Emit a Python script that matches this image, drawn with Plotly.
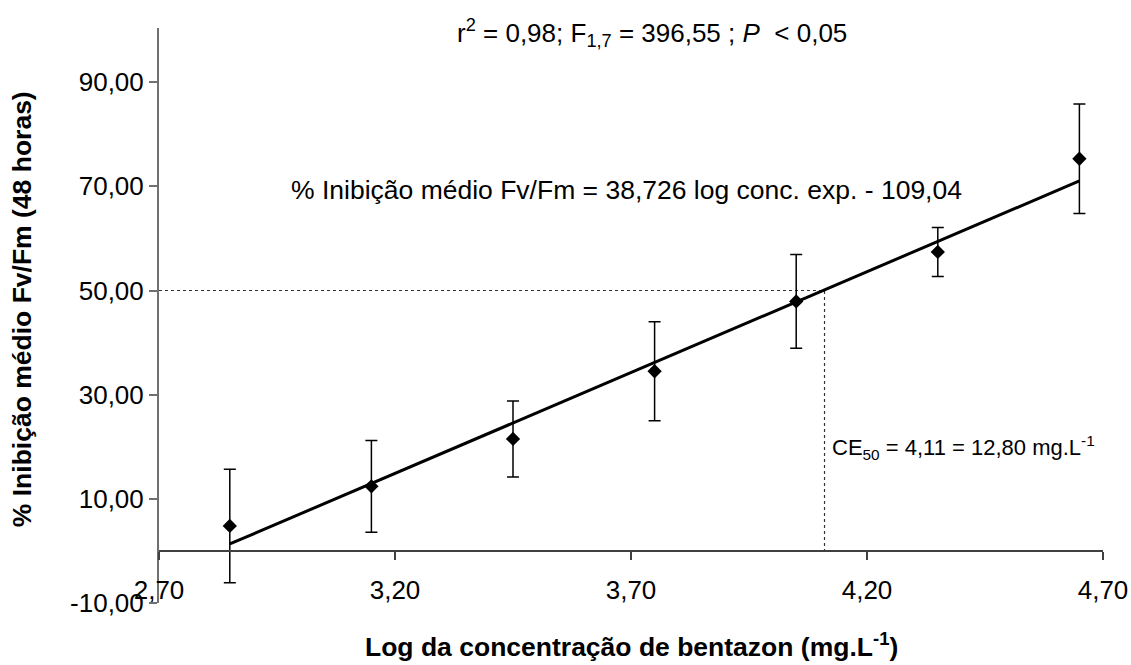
import plotly.graph_objects as go

# ---- data ----
log_conc = [2.85, 3.15, 3.45, 3.75, 4.05, 4.35, 4.65]
inhib_mean = [4.8, 12.4, 21.5, 34.5, 47.9, 57.4, 75.3]
inhib_err = [10.9, 8.8, 7.3, 9.5, 9.0, 4.7, 10.5]

slope = 38.726
intercept = -109.04
ce50_x = 4.11
ce50_y = 50.0

x_range = [2.70, 4.70]
y_range = [-10.0, 100.4]
x_ticks = [2.70, 3.20, 3.70, 4.20, 4.70]
y_ticks = [-10.0, 10.0, 30.0, 50.0, 70.0, 90.0]

def fmt(v):
    return f"{v:.2f}".replace(".", ",")

FONT = "Liberation Sans, Arial, sans-serif"

trend_x = [log_conc[0], log_conc[-1]]
trend_y = [slope * v + intercept for v in trend_x]

fig = go.Figure()

# reference dotted lines for CE50
fig.add_trace(go.Scatter(
    x=[x_range[0], ce50_x, ce50_x], y=[ce50_y, ce50_y, 0],
    mode="lines", line=dict(color="#333333", width=1.2, dash="dot"),
    hoverinfo="skip", showlegend=False))

# regression line
fig.add_trace(go.Scatter(
    x=trend_x, y=trend_y, mode="lines",
    line=dict(color="black", width=3), showlegend=False))

# means with error bars
fig.add_trace(go.Scatter(
    x=log_conc, y=inhib_mean, mode="markers",
    marker=dict(symbol="diamond", size=11, color="black"),
    error_y=dict(type="data", array=inhib_err, visible=True,
                 color="black", thickness=1.5, width=6),
    showlegend=False))

ypos = (0 - y_range[0]) / (y_range[1] - y_range[0])

fig.update_layout(
    width=1131, height=665,
    margin=dict(l=159, r=28, t=28, b=62, autoexpand=False),
    paper_bgcolor="white", plot_bgcolor="white",
    font=dict(family=FONT, size=26, color="black"),
    separators=",.",
    xaxis=dict(
        range=x_range, tickvals=x_ticks, ticktext=[fmt(v) for v in x_ticks],
        showgrid=False, zeroline=False, automargin=False,
        showline=True, linecolor="#404040", linewidth=1.5,
        ticks="outside", ticklen=8, tickcolor="#404040", tickwidth=1.5,
        ticklabelstandoff=8, ticklabeloverflow="allow",
        anchor="free", position=ypos,
        tickfont=dict(family=FONT, size=26, color="black"),
    ),
    yaxis=dict(
        range=y_range, tickvals=y_ticks, ticktext=[fmt(v) for v in y_ticks],
        showgrid=False, zeroline=False, automargin=False,
        showline=True, linecolor="#707070", linewidth=2,
        ticks="outside", ticklen=8, tickcolor="#707070", tickwidth=1.5,
        tickfont=dict(family=FONT, size=26, color="black"),
    ),
    annotations=[
        dict(text="r<sup>2</sup> = 0,98; F<sub>1,7</sub> = 396,55 ; <i>P</i>  &lt; 0,05",
             xref="paper", yref="paper", x=0.522, y=0.991,
             xanchor="center", yanchor="middle", showarrow=False,
             font=dict(family=FONT, size=26, color="black")),
        dict(text="% Inibição médio Fv/Fm = 38,726 log conc. exp. - 109,04",
             xref="paper", yref="paper", x=0.495, y=0.718,
             xanchor="center", yanchor="middle", showarrow=False,
             font=dict(family=FONT, size=26.5, color="black")),
        dict(text="CE<sub>50</sub> = 4,11 = 12,80 mg.L<sup>-1</sup>",
             xref="paper", yref="paper", x=0.711, y=0.271,
             xanchor="left", yanchor="middle", showarrow=False,
             font=dict(family=FONT, size=22, color="black")),
        dict(text="<b>Log da concentração de bentazon (mg.L<sup>-1</sup>)</b>",
             xref="paper", yref="paper", x=0.501, y=0,
             xanchor="center", yanchor="middle", yshift=-42, showarrow=False,
             font=dict(family=FONT, size=26.5, color="black")),
        dict(text="<b>% Inibição médio Fv/Fm (48 horas)</b>",
             xref="paper", yref="paper", x=0, y=0.511, textangle=-90,
             xanchor="center", yanchor="middle", xshift=-137, showarrow=False,
             font=dict(family=FONT, size=26.5, color="black")),
    ],
)

fig.write_html(
    "out.html",
    config={"displayModeBar": False},
    post_script="document.body.style.margin='0';document.body.style.overflow='hidden';",
)
